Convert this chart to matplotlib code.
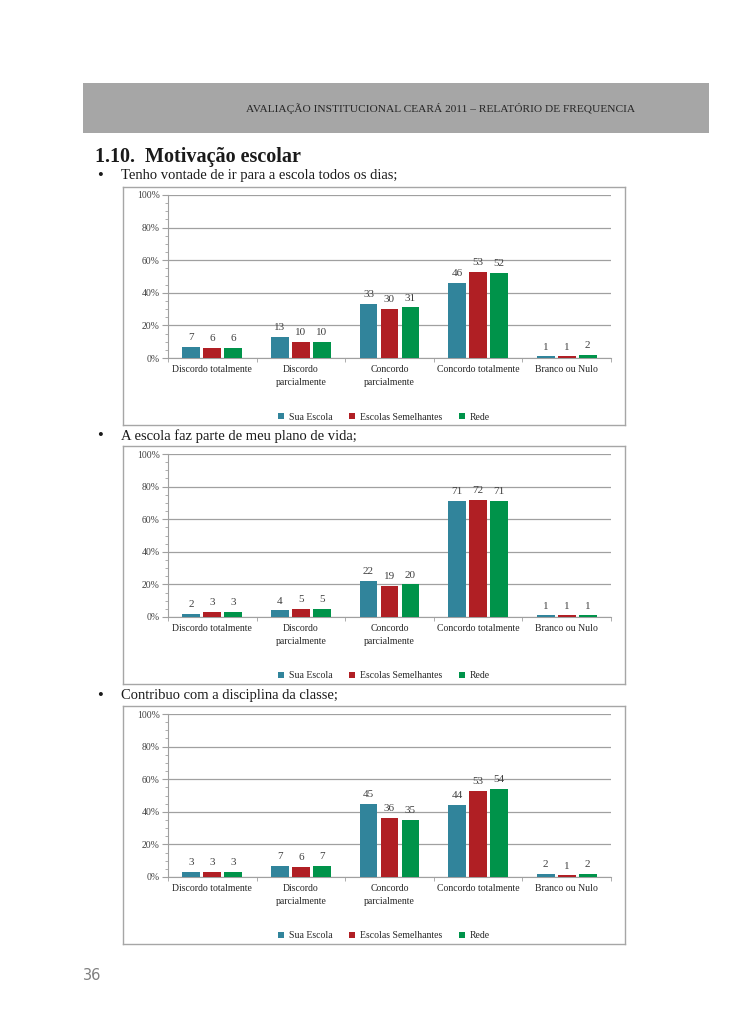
import numpy as np
import matplotlib.pyplot as plt
from matplotlib.patches import Rectangle

W, H = 729, 1030

categories = ["Discordo totalmente", "Discordo\nparcialmente", "Concordo\nparcialmente",
              "Concordo totalmente", "Branco ou Nulo"]
series_names = ["Sua Escola", "Escolas Semelhantes", "Rede"]
colors = ["#31849b", "#b01f24", "#00934a"]

questions = ["Tenho vontade de ir para a escola todos os dias;",
             "A escola faz parte de meu plano de vida;",
             "Contribuo com a disciplina da classe;"]

q1_sua = [7, 13, 33, 46, 1]
q1_semelhantes = [6, 10, 30, 53, 1]
q1_rede = [6, 10, 31, 52, 2]

q2_sua = [2, 4, 22, 71, 1]
q2_semelhantes = [3, 5, 19, 72, 1]
q2_rede = [3, 5, 20, 71, 1]

q3_sua = [3, 7, 45, 44, 2]
q3_semelhantes = [3, 6, 36, 53, 1]
q3_rede = [3, 7, 35, 54, 2]

data = [
    [q1_sua, q1_semelhantes, q1_rede],
    [q2_sua, q2_semelhantes, q2_rede],
    [q3_sua, q3_semelhantes, q3_rede],
]

SERIF = ["Liberation Serif", "DejaVu Serif"]
plt.rcParams["font.family"] = SERIF


def px_rect(x0, y0, x1, y1):
    return [x0 / W, 1 - y1 / H, (x1 - x0) / W, (y1 - y0) / H]


def fx(x):
    return x / W


def fy(y):
    return 1 - y / H


def draw_chart(fig, box_top, values):
    box_bottom = box_top + 238
    # outer chart frame
    frame = fig.add_axes(px_rect(123, box_top, 625, box_bottom))
    frame.set_xticks([])
    frame.set_yticks([])
    for s in frame.spines.values():
        s.set_color("#a6a6a6")
        s.set_linewidth(1.0)
    frame.set_facecolor("white")

    ax = fig.add_axes(px_rect(168, box_top + 8, 611, box_top + 171))
    ax.set_facecolor("none")
    x = np.arange(len(categories))
    offsets = [-0.237, 0.0, 0.237]
    bars = []
    for vals, off, col, name in zip(values, offsets, colors, series_names):
        b = ax.bar(x + off, vals, width=0.2, color=col, label=name, zorder=3)
        ax.bar_label(b, padding=3.5, fontsize=8, color="#404040")
        bars.append(b)

    ax.set_xlim(-0.5, 4.5)
    ax.set_ylim(0, 100)
    ax.set_yticks(np.arange(0, 101, 20))
    ax.set_yticklabels([f"{v}%" for v in range(0, 101, 20)], fontsize=7, color="#404040")
    ax.set_yticks(np.arange(0, 101, 5), minor=True)
    ax.yaxis.grid(True, color="#a0a0a0", linewidth=0.9, zorder=0)
    ax.tick_params(axis="y", which="major", length=4, color="#a0a0a0", pad=2)
    ax.tick_params(axis="y", which="minor", length=2, color="#a0a0a0")

    ax.set_xticks(x)
    ax.set_xticklabels(categories, fontsize=7, color="#262626", linespacing=1.55)
    ax.tick_params(axis="x", which="major", length=0, pad=5)
    ax.set_xticks(np.arange(-0.5, 5.0, 1.0), minor=True)
    ax.tick_params(axis="x", which="minor", length=3, color="#a0a0a0")

    for side in ["top", "right"]:
        ax.spines[side].set_visible(False)
    ax.spines["left"].set_color("#a0a0a0")
    ax.spines["bottom"].set_color("#a0a0a0")

    fig.legend(handles=bars, labels=series_names, loc="center",
               bbox_to_anchor=(fx(384), fy(box_top + 230)), ncol=3, frameon=False,
               fontsize=7, handlelength=0.6, handleheight=0.6, handletextpad=0.5,
               columnspacing=1.7, labelcolor="#262626")


def main():
    fig = plt.figure(figsize=(W / 100, H / 100), dpi=100)
    fig.patch.set_facecolor("white")

    # header band
    fig.patches.append(Rectangle((fx(83), fy(133)), (709 - 83) / W, 50 / H,
                                 transform=fig.transFigure, facecolor="#a6a6a6",
                                 edgecolor="none", zorder=0))
    fig.text(fx(635), fy(108), "AVALIAÇÃO INSTITUCIONAL CEARÁ 2011 – RELATÓRIO DE FREQUENCIA",
             ha="right", va="center", fontsize=8.2, color="#262626")

    fig.text(fx(95), fy(157), "1.10.  Motivação escolar", ha="left", va="center",
             fontsize=14.5, weight="bold", color="#1a1a1a")

    box_tops = [187, 446, 706]
    bullet_y = [176, 436, 696]
    for q, by, bt, vals in zip(questions, bullet_y, box_tops, data):
        fig.text(fx(100), fy(by), "•", ha="center", va="center", fontsize=12, color="#1a1a1a")
        fig.text(fx(121), fy(by), q, ha="left", va="center", fontsize=10.5, color="#1a1a1a")
        draw_chart(fig, bt, vals)

    fig.text(fx(83), fy(975), "36", ha="left", va="center", fontsize=10.5,
             color="#7f7f7f", family=["DejaVu Sans"])

    fig.savefig("out.png", dpi=100, facecolor="white")
    plt.close(fig)


if __name__ == "__main__":
    main()
